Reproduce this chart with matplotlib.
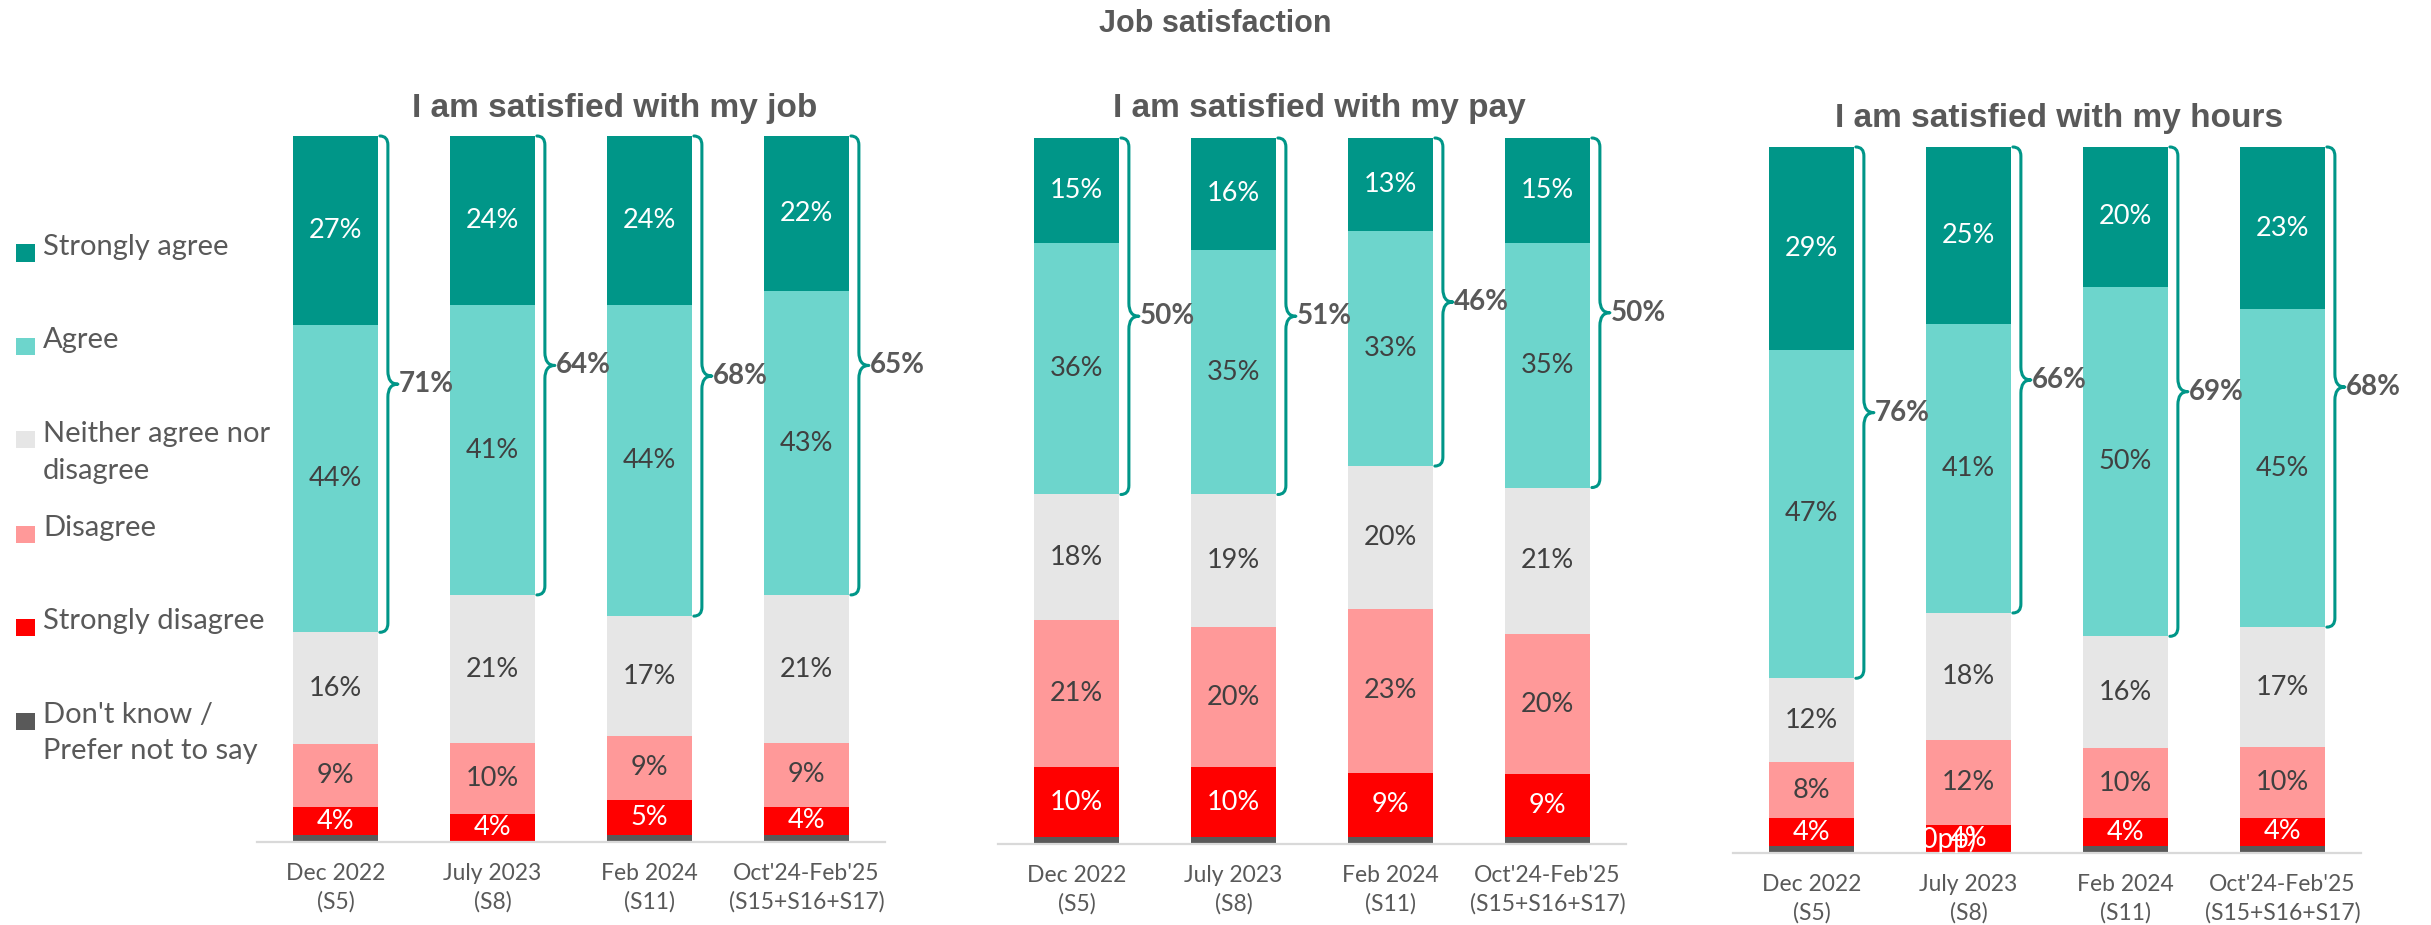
import matplotlib
matplotlib.use("Agg")
import matplotlib.pyplot as plt
from matplotlib.patches import Rectangle, PathPatch
from matplotlib.path import Path
import numpy as np

W, H, DPI = 2431, 925, 100

categories = ["Dec 2022\n(S5)", "July 2023\n(S8)", "Feb 2024\n(S11)",
              "Oct'24-Feb'25\n(S15+S16+S17)"]
responses = ["Strongly agree", "Agree", "Neither agree nor\ndisagree",
             "Disagree", "Strongly disagree", "Don't know /\nPrefer not to say"]
colors = ["#009688", "#6dd5cc", "#e6e6e6", "#ff9999", "#ff0000", "#595959"]
label_colors = ["white", "#404040", "#404040", "#404040", "white", None]

# I am satisfied with my job
job_strongly_agree = [27, 24, 24, 22]
job_agree = [44, 41, 44, 43]
job_neither = [16, 21, 17, 21]
job_disagree = [9, 10, 9, 9]
job_strongly_disagree = [4, 4, 5, 4]
job_dont_know = [1, 0, 1, 1]
job_net_agree = [71, 64, 68, 65]

# I am satisfied with my pay
pay_strongly_agree = [15, 16, 13, 15]
pay_agree = [36, 35, 33, 35]
pay_neither = [18, 19, 20, 21]
pay_disagree = [21, 20, 23, 20]
pay_strongly_disagree = [10, 10, 9, 9]
pay_dont_know = [1, 1, 1, 1]
pay_net_agree = [50, 51, 46, 50]

# I am satisfied with my hours
hours_strongly_agree = [29, 25, 20, 23]
hours_agree = [47, 41, 50, 45]
hours_neither = [12, 18, 16, 17]
hours_disagree = [8, 12, 10, 10]
hours_strongly_disagree = [4, 4, 4, 4]
hours_dont_know = [1, 0, 1, 1]
hours_net_agree = [76, 66, 69, 68]

panels = [
    dict(title="I am satisfied with my job", title_xy=(615, 108),
         rect=(257, 136, 885, 842),
         series=[job_strongly_agree, job_agree, job_neither, job_disagree,
                 job_strongly_disagree, job_dont_know],
         net=job_net_agree),
    dict(title="I am satisfied with my pay", title_xy=(1319, 108),
         rect=(998, 138, 1626, 844),
         series=[pay_strongly_agree, pay_agree, pay_neither, pay_disagree,
                 pay_strongly_disagree, pay_dont_know],
         net=pay_net_agree),
    dict(title="I am satisfied with my hours", title_xy=(2059, 118),
         rect=(1733, 147, 2361, 853),
         series=[hours_strongly_agree, hours_agree, hours_neither, hours_disagree,
                 hours_strongly_disagree, hours_dont_know],
         net=hours_net_agree),
]

LABEL_FONT = ["Lato", "DejaVu Sans"]
TITLE_FONT = ["Liberation Sans", "DejaVu Sans"]
GREY = "#595959"
BRACE = "#009688"
BAR_W = 0.54


def fx(x):
    return x / W


def fy(y):
    return 1 - y / H


fig = plt.figure(figsize=(W / DPI, H / DPI), dpi=DPI)
fig.patch.set_facecolor("white")

fig.text(fx(1215), fy(24), "Job satisfaction", ha="center", va="center",
         fontsize=22, fontweight="bold", color=GREY, family=TITLE_FONT)

for p in panels:
    l, t, r, b = p["rect"]
    ax = fig.add_axes([fx(l), fy(b), (r - l) / W, (b - t) / H])
    x = np.arange(len(categories))
    data = np.array(p["series"], dtype=float)
    totals = data.sum(axis=0)
    shares = data / totals * 100  # 100% stacked columns

    ax.set_xlim(-0.5, len(categories) - 0.5)
    ax.set_ylim(0, 100)
    bottom = np.full(len(categories), 100.0)
    for k in range(len(responses)):
        bottom = bottom - shares[k]
        ax.bar(x, shares[k], BAR_W, bottom=bottom, color=colors[k],
               edgecolor="none", zorder=2)
        if label_colors[k] is None:
            continue
        for i in range(len(categories)):
            if data[k, i] <= 0:
                continue
            ax.text(x[i], bottom[i] + shares[k, i] / 2, f"{int(data[k, i])}%",
                    ha="center", va="center", fontsize=19.5,
                    color=label_colors[k], family=LABEL_FONT, zorder=4)

    # pixel -> data unit conversion
    px_x = (len(categories)) / (r - l)
    px_y = 100.0 / (b - t)

    for i in range(len(categories)):
        R = x[i] + BAR_W / 2
        top = 100.0
        bot = 100.0 - shares[0, i] - shares[1, i]
        mid = (top + bot) / 2
        x0, x1, x2 = R + 2 * px_x, R + 10 * px_x, R + 20 * px_x
        rr, mm = 9 * px_y, 13 * px_y
        verts = [(x0, top), (x1, top), (x1, top - rr),
                 (x1, mid + mm), (x1, mid), (x2, mid),
                 (x1, mid), (x1, mid - mm),
                 (x1, bot + rr), (x1, bot), (x0, bot)]
        codes = [Path.MOVETO, Path.CURVE3, Path.CURVE3,
                 Path.LINETO, Path.CURVE3, Path.CURVE3,
                 Path.CURVE3, Path.CURVE3,
                 Path.LINETO, Path.CURVE3, Path.CURVE3]
        ax.add_patch(PathPatch(Path(verts, codes), facecolor="none",
                               edgecolor=BRACE, lw=2.2, clip_on=False,
                               capstyle="round", joinstyle="round", zorder=3))
        ax.text(x2 + 1 * px_x, mid, f"{p['net'][i]}%", ha="left", va="center",
                fontsize=20, fontweight="bold", color=GREY, family=LABEL_FONT,
                clip_on=False, zorder=4)

    for s in ["top", "left", "right"]:
        ax.spines[s].set_visible(False)
    ax.spines["bottom"].set_color("#d9d9d9")
    ax.spines["bottom"].set_linewidth(1.6)
    ax.set_yticks([])
    ax.set_xticks(x)
    ax.set_xticklabels(categories, fontsize=16.5, color=GREY, family=LABEL_FONT,
                       linespacing=1.4)
    ax.tick_params(axis="x", length=0, pad=15)
    ax.set_facecolor("none")

    tx, ty = p["title_xy"]
    fig.text(fx(tx), fy(ty), p["title"], ha="center", va="center",
             fontsize=24, fontweight="bold", color=GREY, family=TITLE_FONT)

# change note sitting in the red segment of July 2023 (hours)
fig.text(fx(1977), fy(839), "(0pp)", ha="right", va="center", fontsize=20,
         color="white", family=LABEL_FONT, zorder=5)

# legend
legend_rows = [253, 346, 440, 534, 627, 721]
for k, name in enumerate(responses):
    yc = legend_rows[k]
    fig.patches.append(Rectangle((fx(16), fy(yc + 8.5)), 19 / W, 17 / H,
                                 transform=fig.transFigure, facecolor=colors[k],
                                 edgecolor="none"))
    fig.text(fx(43), fy(yc - 19), name, ha="left", va="top", fontsize=21,
             color=GREY, family=LABEL_FONT, linespacing=1.5)

fig.savefig("out.png", dpi=DPI, facecolor="white")
